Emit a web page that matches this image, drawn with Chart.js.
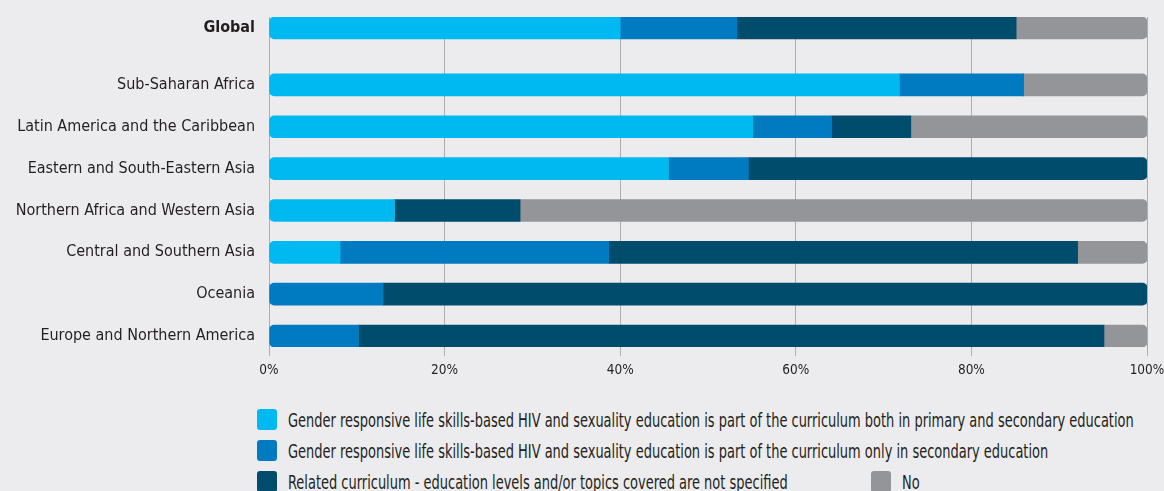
<!DOCTYPE html>
<html>
<head>
<meta charset="utf-8">
<script src="https://cdn.jsdelivr.net/npm/chart.js@4.4.1/dist/chart.umd.min.js"></script>
<style>
  body { margin: 0; background: #ececee; width: 1164px; height: 491px; overflow: hidden; position: relative; }
  #wrap { position: absolute; left: 0; top: 0; width: 1164px; height: 395px; }
  #legend { position: absolute; left: 257px; top: 409px; font-family: 'DejaVu Sans Condensed', 'Liberation Sans', sans-serif; }
  .row { position: relative; display: flex; align-items: center; height: 21px; margin-bottom: 10px; }
  .item { display: flex; align-items: center; }
  .box { width: 20px; height: 21px; border-radius: 3px; margin-right: 11px; flex: none; }
  .txt { font-size: 19px; color: #231f20; white-space: nowrap; display: inline-block; transform-origin: left center; }
</style>
</head>
<body>
<div id="wrap"><canvas id="chart"></canvas></div>
<div id="legend"></div>
<script>
// regions, top to bottom
const categories = [
  "Global",
  "Sub-Saharan Africa",
  "Latin America and the Caribbean",
  "Eastern and South-Eastern Asia",
  "Northern Africa and Western Asia",
  "Central and Southern Asia",
  "Oceania",
  "Europe and Northern America"
];

// % of countries
const bothLevels    = [40.0, 71.8, 55.1, 45.5, 14.3,  8.1,  0.0,  0.0];
const secondaryOnly = [13.3, 14.1,  9.0,  9.1,  0.0, 30.6, 13.0, 10.2];
const notSpecified  = [31.8,  0.0,  9.0, 45.4, 14.3, 53.4, 87.0, 84.9];
const noCurriculum  = [14.9, 14.1, 26.9,  0.0, 71.4,  7.9,  0.0,  4.9];

const seriesLabels = [
  "Gender responsive life skills-based HIV and sexuality education is part of the curriculum both in primary and secondary education",
  "Gender responsive life skills-based HIV and sexuality education is part of the curriculum only in secondary education",
  "Related curriculum - education levels and/or topics covered are not specified",
  "No"
];
const xTicks = [0, 20, 40, 60, 80, 100];

const colors = ["#00b9f1", "#007bc1", "#004c6d", "#949599"];
const FONT = "'DejaVu Sans Condensed', 'Liberation Sans', sans-serif";

// Global sits a bit apart from the regions
const GAP = 0.36;
const rowPos = categories.map((c, i) => i === 0 ? 0 : i + GAP);

const seriesValues = [bothLevels, secondaryOnly, notSpecified, noCurriculum];

// floating segments from running sums
const starts = categories.map(() => 0);
const datasets = seriesValues.map((vals, s) => {
  const data = vals.map((v, i) => {
    const seg = { x: [starts[i], starts[i] + v], y: rowPos[i] };
    starts[i] += v;
    return seg;
  });
  return {
    label: seriesLabels[s],
    data: data,
    backgroundColor: colors[s],
    grouped: false,
    barThickness: 22,
    maxBarThickness: 22,
    borderSkipped: false,
    borderRadius: (ctx) => {
      const i = ctx.dataIndex;
      const nonZero = seriesValues.map((arr, k) => arr[i] > 0 ? k : -1).filter(k => k >= 0);
      const first = nonZero[0] === ctx.datasetIndex;
      const last = nonZero[nonZero.length - 1] === ctx.datasetIndex;
      return {
        topLeft: first ? 5 : 0, bottomLeft: first ? 5 : 0,
        topRight: last ? 5 : 0, bottomRight: last ? 5 : 0
      };
    }
  };
});

new Chart(document.getElementById("chart"), {
  type: "bar",
  data: { datasets: datasets },
  options: {
    indexAxis: "y",
    responsive: true,
    maintainAspectRatio: false,
    animation: false,
    layout: { padding: { top: 17, right: 17, left: 0, bottom: 0 } },
    plugins: { legend: { display: false }, tooltip: { enabled: false } },
    scales: {
      x: {
        type: "linear",
        min: 0,
        max: 100,
        afterBuildTicks: (scale) => { scale.ticks = xTicks.map(v => ({ value: v })); },
        afterFit: (scale) => { scale.height = 48; scale.paddingLeft = 0; scale.paddingRight = 0; },
        grid: { color: "#adadad", lineWidth: 1, tickLength: 9 },
        border: { display: false },
        ticks: {
          callback: (v) => v + "%",
          color: "#231f20",
          padding: 6,
          font: { family: FONT, size: 13.5 }
        }
      },
      y: {
        type: "linear",
        reverse: true,
        offset: false,
        bounds: "data",
        min: -0.263,
        max: rowPos[rowPos.length - 1] + 0.263,
        afterBuildTicks: (scale) => { scale.ticks = rowPos.map(v => ({ value: v })); },
        afterFit: (scale) => { scale.width = 269; scale.paddingTop = 0; scale.paddingBottom = 0; },
        grid: { display: false, drawTicks: false, offset: false },
        border: { display: true, color: "#adadad", width: 1 },
        ticks: {
          autoSkip: false,
          padding: 14,
          color: "#231f20",
          callback: (v, i) => categories[i],
          font: (ctx) => ({ family: FONT, size: 16, weight: ctx.index === 0 ? "bold" : "normal" })
        }
      }
    }
  }
});

// legend: three rows, "No" shares the last row
const legend = document.getElementById("legend");
const legendRows = [[0], [1], [2, 3]];
const spans = [];
legendRows.forEach(items => {
  const row = document.createElement("div");
  row.className = "row";
  items.forEach((s, k) => {
    const item = document.createElement("div");
    item.className = "item";
    if (k > 0) { item.style.position = "absolute"; item.style.left = "614px"; }
    item.innerHTML = '<div class="box" style="background:' + colors[s] + '"></div><span class="txt">' + seriesLabels[s] + '</span>';
    row.appendChild(item);
    spans.push(item.querySelector(".txt"));
  });
  legend.appendChild(row);
});
// squeeze the legend text to the condensed width of the original
const squeeze = 846 / spans[0].offsetWidth;
spans.forEach(sp => { sp.style.transform = "scaleX(" + squeeze + ")"; });
</script>
</body>
</html>
